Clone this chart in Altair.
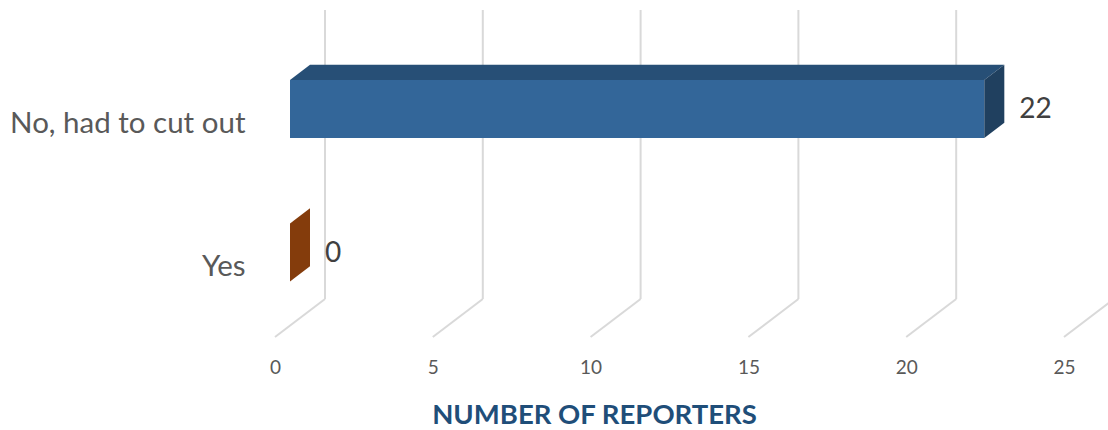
import altair as alt
import pandas as pd

# ---- data ----
categories = ["No, had to cut out", "Yes"]
values = [22, 0]
rows = [1, 0]                      # category position (row index, bottom = 0)
front_colors = ["#336699", "#843C0C"]
top_colors = ["#274F76", "#6B300A"]
side_colors = ["#20405F", "#843C0C"]
tick_values = [0, 5, 10, 15, 20, 25]

# ---- 3D geometry (styling constants) ----
W, H = 833, 327            # plot area
PAD_L, PAD_T, PAD_B = 275, 10, 93
UX = 31.56                 # px per value unit
UY = 143.5                 # px per row
XMAX = W / UX
RMIN = -(H + PAD_T - 263.9) / UY   # floor front edge
RMAX = RMIN + H / UY
DXU = 50 / UX              # full depth, value units
DYU = 38 / UY              # full depth, row units
T1, T2 = 0.3, 0.7          # bar depth range
HH = 29 / UY               # bar half thickness

xs = alt.Scale(domain=[0, XMAX], nice=False, zero=False)
ys = alt.Scale(domain=[RMIN, RMAX], nice=False, zero=False)
cscale = lambda rng: alt.Scale(domain=categories, range=rng)

# gridlines (back wall) and floor diagonals
grid = pd.DataFrame({
    "x": [v + DXU for v in tick_values],
    "y": [RMIN + DYU] * len(tick_values),
    "y2": [RMAX] * len(tick_values),
})
floor = pd.DataFrame({
    "x": tick_values,
    "x2": [v + DXU for v in tick_values],
    "y": [RMIN] * len(tick_values),
    "y2": [RMIN + DYU] * len(tick_values),
})

front = pd.DataFrame({
    "cat": categories,
    "x": [T1 * DXU] * 2,
    "x2": [v + T1 * DXU for v in values],
    "y": [r - HH + T1 * DYU for r in rows],
    "y2": [r + HH + T1 * DYU for r in rows],
})

top_rows, side_rows = [], []
for c, v, r in zip(categories, values, rows):
    for t in (T1, T2):
        top_rows.append({"cat": c, "y": r + HH + t * DYU, "x": t * DXU, "x2": v + t * DXU})
        side_rows.append({"cat": c, "x": v + t * DXU, "y": r - HH + t * DYU, "y2": r + HH + t * DYU})
top = pd.DataFrame(top_rows)
side = pd.DataFrame(side_rows)

labels = pd.DataFrame({
    "cat": categories,
    "v": values,
    "x": values,
    "y": [r + T1 * DYU for r in rows],
})

grid_color = "#D9D9D9"

base_x_axis = alt.Axis(
    values=tick_values, domain=False, ticks=False, grid=False, labelFlush=False,
    labelFont="Lato", labelFontSize=19, labelColor="#595959", labelPadding=21,
    title="NUMBER OF REPORTERS", titleFont="Lato", titleFontSize=27.5,
    titleFontWeight="bold", titleColor="#1F4E79",
    titleX=319, titleY=78, titleBaseline="middle", titleAnchor="middle",
)
base_y_axis = alt.Axis(
    values=[0, 1], domain=False, ticks=False, grid=False,
    labelExpr="datum.value == 1 ? 'No, had to cut out' : 'Yes'",
    labelFont="Lato", labelFontSize=29.5, labelColor="#595959", labelPadding=30,
    labelOffset=3, labelLimit=0, title=None,
)

grid_layer = alt.Chart(grid).mark_rule(color=grid_color, strokeWidth=2).encode(
    x=alt.X("x:Q", scale=xs, axis=base_x_axis),
    y=alt.Y("y:Q", scale=ys, axis=base_y_axis),
    y2="y2:Q",
)
floor_layer = alt.Chart(floor).mark_rule(color=grid_color, strokeWidth=2).encode(
    x=alt.X("x:Q", scale=xs), x2="x2:Q",
    y=alt.Y("y:Q", scale=ys), y2="y2:Q",
)
front_layer = alt.Chart(front).mark_rect().encode(
    x=alt.X("x:Q", scale=xs), x2="x2:Q",
    y=alt.Y("y:Q", scale=ys), y2="y2:Q",
    color=alt.Color("cat:N", scale=cscale(front_colors), legend=None),
)
top_layer = alt.Chart(top).mark_area(orient="horizontal").encode(
    y=alt.Y("y:Q", scale=ys),
    x=alt.X("x:Q", scale=xs, stack=None), x2="x2:Q",
    color=alt.Color("cat:N", scale=cscale(top_colors), legend=None),
    detail="cat:N",
)
side_layer = alt.Chart(side).mark_area(orient="vertical").encode(
    x=alt.X("x:Q", scale=xs),
    y=alt.Y("y:Q", scale=ys, stack=None), y2="y2:Q",
    color=alt.Color("cat:N", scale=cscale(side_colors), legend=None),
    detail="cat:N",
)
label_layer = alt.Chart(labels).mark_text(
    align="left", baseline="middle", dx=50, dy=1,
    font="Lato", fontSize=28, color="#404040",
).encode(
    x=alt.X("x:Q", scale=xs),
    y=alt.Y("y:Q", scale=ys),
    text="v:Q",
)

chart = alt.layer(
    grid_layer, floor_layer, front_layer, top_layer, side_layer, label_layer
).resolve_scale(color="independent").properties(
    width=W, height=H,
    autosize=alt.AutoSizeParams(type="none"),
    padding={"left": PAD_L, "top": PAD_T, "right": 0, "bottom": PAD_B},
    background="white",
).configure_view(stroke=None)

chart.save("out.html", embed_options={"renderer": "svg", "actions": False})
